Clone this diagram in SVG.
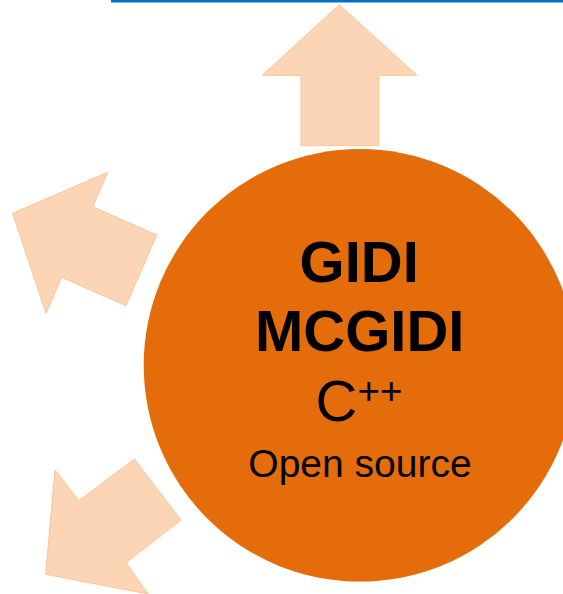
<svg xmlns="http://www.w3.org/2000/svg" width="563" height="594" viewBox="0 0 563 594">
<style>
.arrow{fill:#FBD5B5;stroke:#F9C595;stroke-width:1;stroke-linejoin:miter}
.t{font-family:"Liberation Sans",Arial,sans-serif;fill:#000;text-anchor:middle}
.b{font-weight:bold;font-size:58px}
</style>
<rect width="563" height="594" fill="#FFFFFF"/>
<line x1="111" y1="1.2" x2="563" y2="1.2" stroke="#0070C0" stroke-width="2.5"/>
<g id="arrow-up">
<polygon class="arrow" points="339.3,4.7 417,75.3 378.7,75.3 378.7,145.7 301,145.7 301,75.3 262.3,75.3"/>
</g>
<g id="arrow-left">
<polygon class="arrow" points="12.7,213.3 107.7,172.3 92.7,206.7 156.7,235 126,305.7 61.7,277.3 46,313.3"/>
</g>
<g id="arrow-lowerleft">
<polygon class="arrow" points="45.7,574.3 55,470 79,500.7 134.3,459 181,520 126,562.7 148.3,594"/>
</g>
<g id="hub">
<circle cx="360" cy="365.3" r="216.3" fill="#E46C0A"/>
<text class="t b" x="359.2" y="281.7">GIDI</text>
<text class="t b" x="359.7" y="351">MCGIDI</text>
<text class="t" x="359" y="420.7" font-size="58"><tspan>C</tspan><tspan font-size="38.5" dy="-17">++</tspan></text>
<text class="t" x="360" y="477.3" font-size="39">Open source</text>
</g>
</svg>
